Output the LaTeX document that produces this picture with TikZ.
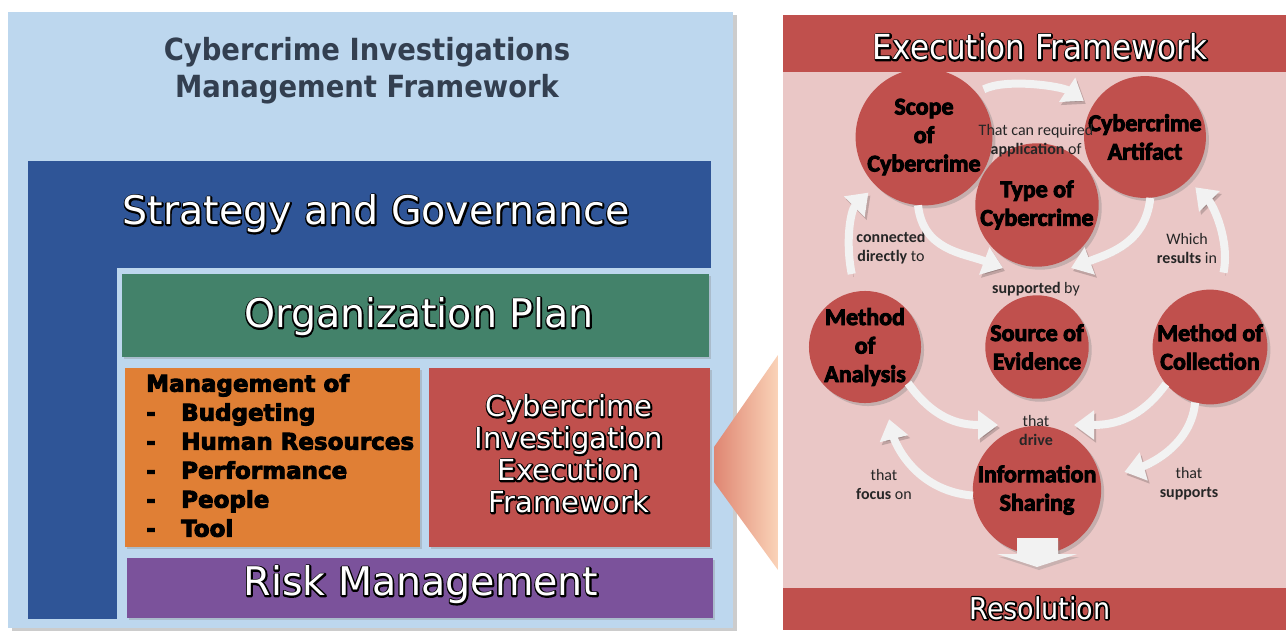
\documentclass[tikz,border=0pt]{standalone}
\usepackage{fontspec}
\setmainfont{Carlito}
\newfontfamily\tahoma[FakeStretch=0.9]{DejaVu Sans}
\newfontfamily\verd{DejaVu Sans}
\usetikzlibrary{arrows.meta,shadows,positioning}
\definecolor{paleblue}{HTML}{BDD7EE}
\definecolor{govblue}{HTML}{2F5597}
\definecolor{plangreen}{HTML}{43826A}
\definecolor{mgmtorange}{HTML}{E07F35}
\definecolor{execred}{HTML}{C0504D}
\definecolor{riskpurple}{HTML}{7B529B}
\definecolor{palered}{HTML}{EAC7C6}
\definecolor{flowwhite}{HTML}{F2F2F2}
\definecolor{titleink}{HTML}{333F50}
\definecolor{labelink}{HTML}{262626}
\definecolor{fanleft}{HTML}{DF8672}
\definecolor{fanright}{HTML}{FAD3B8}
% white letters with a black rim, and black letters made heavier
\newcommand{\outl}[1]{\rlap{\special{pdf:literal direct 1 Tr 3 w 1 J 1 j 0 G}#1\special{pdf:literal direct 0 Tr}}{\color{white}#1}}
\newcommand{\heavy}[1]{{\special{pdf:literal direct 2 Tr 0.9 w 0 G}#1\special{pdf:literal direct 0 Tr}}}
\begin{document}
\begin{tikzpicture}[x=1pt, y=-1pt,
	box/.style={anchor=north west, inner sep=0pt, outer sep=0pt},
	shade box/.style={box, drop shadow={opacity=.3, shadow xshift=2pt, shadow yshift=-2pt}},
	big/.style={font=\verd\fontsize{39.5}{39.5}\selectfont},
	stage/.style={circle, fill=execred, minimum size=92pt, inner sep=0pt, align=center,
		font=\bfseries\fontsize{24}{28.5}\selectfont,
		drop shadow={opacity=.35, shadow xshift=3pt, shadow yshift=-3pt}},
	note/.style={align=center, text=labelink, font=\fontsize{16}{19}\selectfont},
	flow/.style={draw=flowwhite, line width=8pt, -{Triangle[length=20pt,width=28pt]},
		preaction={draw=black, opacity=.18, transform canvas={shift={(2pt,-3pt)}}}},
]
	\fill[white] (0,0) rectangle (1286,630);
	\useasboundingbox (0,0) rectangle (1286,630);

	% management side
	\node[box, fill=paleblue, minimum width=725pt, minimum height=616pt,
		drop shadow={opacity=.4, shadow xshift=4pt, shadow yshift=-3pt}] (frame) at (8,12) {};
	\node[align=center, text=titleink, font=\tahoma\bfseries\fontsize{30.5}{37}\selectfont]
		(title) at (367,71) {Cybercrime Investigations\\Management Framework};
	\node[box, fill=govblue, minimum width=683pt, minimum height=458pt] (gov) at (28,161) {};
	\node[big] (strat) at (376,214) {\outl{Strategy and Governance}};
	\node[box, fill=paleblue, minimum width=594pt, minimum height=351pt] (inner) at (117,268) {};
	\node[shade box, fill=plangreen, minimum width=587pt, minimum height=83pt] (plan) at (122,274) {};
	\node[big] (plantext) at (419,317) {\outl{Organization Plan}};
	\node[shade box, fill=mgmtorange, minimum width=295pt, minimum height=179pt] (mgmt) at (125,368) {};
	\node[anchor=north west, align=left, inner sep=0pt, font=\verd\bfseries\fontsize{23}{29}\selectfont]
		(mgmtlist) at (146,374) {\heavy{Management of}\\
		\makebox[35pt][l]{\heavy{-}}\heavy{Budgeting}\\
		\makebox[35pt][l]{\heavy{-}}\heavy{Human Resources}\\
		\makebox[35pt][l]{\heavy{-}}\heavy{Performance}\\
		\makebox[35pt][l]{\heavy{-}}\heavy{People}\\
		\makebox[35pt][l]{\heavy{-}}\heavy{Tool}};
	\node[shade box, fill=execred, minimum width=281pt, minimum height=179pt] (exec) at (429,368) {};
	\node[align=center, font=\verd\fontsize{29}{32}\selectfont]
		(exectext) at (569,454) {\outl{Cybercrime}\\\outl{Investigation}\\\outl{Execution}\\\outl{Framework}};
	\node[shade box, fill=riskpurple, minimum width=586pt, minimum height=60pt] (risk) at (127,558) {};
	\node[big] (risktext) at (421,585) {\outl{Risk Management}};

	\shade[left color=fanleft, right color=fanright]
		(714,447) -- (778,355) -- (778,570) -- (714,482) -- cycle;

	% execution side
	\node[box, fill=palered, minimum width=503pt, minimum height=615pt] (panel) at (783,15) {};
	\node[box, fill=execred, minimum width=503pt, minimum height=57pt] (head) at (783,15) {};
	\node[font=\tahoma\fontsize{34.5}{34.5}\selectfont] (headtext) at (1040,47) {\outl{Execution Framework}};
	\node[box, fill=execred, minimum width=503pt, minimum height=42pt] (resol) at (783,588) {};
	\node[font=\tahoma\fontsize{30}{30}\selectfont] (resoltext) at (1040,608) {\outl{Resolution}};

	\node[stage] (scope) at (924,137) {\heavy{Scope}\\\heavy{of}\\\heavy{Cybercrime}};
	\node[stage] (artifact) at (1145,137) {\heavy{Cybercrime}\\\heavy{Artifact}};
	\node[stage] (type) at (1037,205) {\heavy{Type of}\\\heavy{Cybercrime}};
	\node[stage] (analysis) at (865,347) {\heavy{Method}\\\heavy{of}\\\heavy{Analysis}};
	\node[stage] (source) at (1037,347) {\heavy{Source of}\\\heavy{Evidence}};
	\node[stage] (collection) at (1210,347) {\heavy{Method of}\\\heavy{Collection}};
	\node[stage] (info) at (1037,490) {\heavy{Information}\\\heavy{Sharing}};

	\node[note] (applic) at (1036,141) {That can required\\\textbf{application} of};
	\node[note] (conn) at (891,248) {\textbf{connected}\\\textbf{directly} to};
	\node[note] (which) at (1187,248) {Which\\\textbf{results} in};
	\node[note] (supp) at (1036,289) {\textbf{supported} by};
	\node[note] (drive) at (1036,430) {that\\\textbf{drive}};
	\node[note] (focus) at (884,484) {that\\\textbf{focus} on};
	\node[note] (supps) at (1189,484) {that\\\textbf{supports}};

	\coordinate (supW) at (1003,268);
	\coordinate (supE) at (1071,268);
	\coordinate (drvW) at (998,425);
	\coordinate (drvE) at (1074,425);

	\draw[flow, shorten <=8pt, shorten >=10pt] (scope.40) .. controls +(30,-15) and +(-30,-20) .. (artifact.150);
	\draw[flow] (scope.-95) .. controls +(5,45) and +(-40,-15) .. (supW);
	\draw[flow] (artifact.-85) .. controls +(-5,45) and +(40,-15) .. (supE);
	\draw[flow, shorten <=18pt, shorten >=10pt] (analysis.100) .. controls +(-10,-50) and +(-25,25) .. (scope.-135);
	\draw[flow, shorten <=18pt, shorten >=10pt] (collection.80) .. controls +(10,-50) and +(25,25) .. (artifact.-45);
	\draw[flow] (analysis.-40) .. controls +(25,35) and +(-40,0) .. (drvW);
	\draw[flow] (collection.-140) .. controls +(-25,35) and +(40,0) .. (drvE);
	\draw[flow, shorten >=20pt] (info.185) .. controls +(-60,-5) and +(10,40) .. (analysis.-70);
	\draw[flow, shorten >=25pt] (collection.-105) .. controls +(-5,50) and +(35,-10) .. (info.10);

	\fill[flowwhite, drop shadow={opacity=.3, shadow xshift=2pt, shadow yshift=-3pt}]
		(1017,538) -- (1058,538) -- (1058,554) -- (1077,554) -- (1037,567) -- (997,554) -- (1017,554) -- cycle;
\end{tikzpicture}
\end{document}
